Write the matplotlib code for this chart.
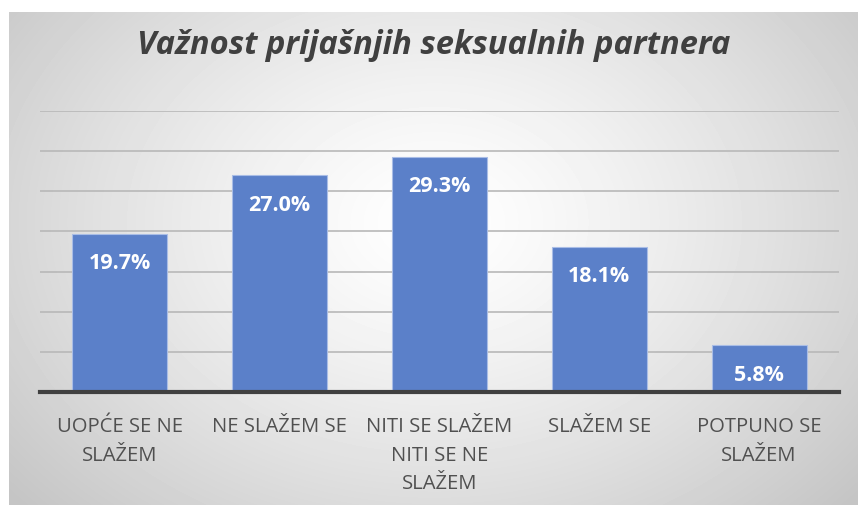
import matplotlib.pyplot as plt
import numpy as np

# data
categories = ["UOPĆE SE NE\nSLAŽEM", "NE SLAŽEM SE", "NITI SE SLAŽEM\nNITI SE NE\nSLAŽEM",
              "SLAŽEM SE", "POTPUNO SE\nSLAŽEM"]
values = [19.7, 27.0, 29.3, 18.1, 5.8]
title = "Važnost prijašnjih seksualnih partnera"

W, H = 858, 506
fig = plt.figure(figsize=(W / 100, H / 100), dpi=100)
fig.patch.set_facecolor("white")

# radial gradient background box
bg = fig.add_axes([9 / W, 0, 1 - 9 / W, (H - 13) / H])
yy, xx = np.mgrid[0:493, 0:849]
cx, cy = 425, 210
r = np.sqrt(((xx - cx) / 560.0) ** 2 + ((yy - cy) / 420.0) ** 2)
r = np.clip(r, 0, 1)
shade = 1.0 - 0.23 * r ** 1.3
bg.imshow(shade, cmap="gray", vmin=0, vmax=1, aspect="auto", interpolation="bilinear")
bg.axis("off")

ax = fig.add_axes([40 / W, (H - 393) / H, 799 / W, 281 / H])
ax.patch.set_alpha(0)
x = np.arange(len(categories))
bars = ax.bar(x, values, width=0.595, color="#5B80C9", edgecolor="#A9BDE6", linewidth=0.8, zorder=3)
ax.set_xlim(-0.5, len(categories) - 0.5)
ax.set_ylim(0, 35)
ax.set_yticks(np.arange(0, 36, 5))
ax.yaxis.grid(True, color="#b8b8b8", linewidth=1.2, zorder=0)
ax.tick_params(axis="y", left=False, labelleft=False)
ax.tick_params(axis="x", bottom=False, pad=14)
for s in ["top", "right", "left"]:
    ax.spines[s].set_visible(False)
ax.spines["bottom"].set_color("#404040")
ax.spines["bottom"].set_linewidth(3)
ax.spines["bottom"].set_zorder(4)

ax.set_xticks(x)
ax.set_xticklabels(categories, fontsize=14.6, color="#505050", family="Open Sans", linespacing=1.55, va="top")

for b, v in zip(bars, values):
    ax.annotate(f"{v:.1f}%", (b.get_x() + b.get_width() / 2, v), xytext=(0, -29),
                textcoords="offset pixels", ha="center", va="center",
                color="white", fontsize=15.5, fontweight="bold", family="Open Sans", zorder=5)

fig.text(434 / W, 1 - 45 / H, title, ha="center", va="center", fontsize=23.5,
         fontweight="bold", fontstyle="italic", color="#404040", family="Open Sans")

fig.savefig("out.png", dpi=100)
